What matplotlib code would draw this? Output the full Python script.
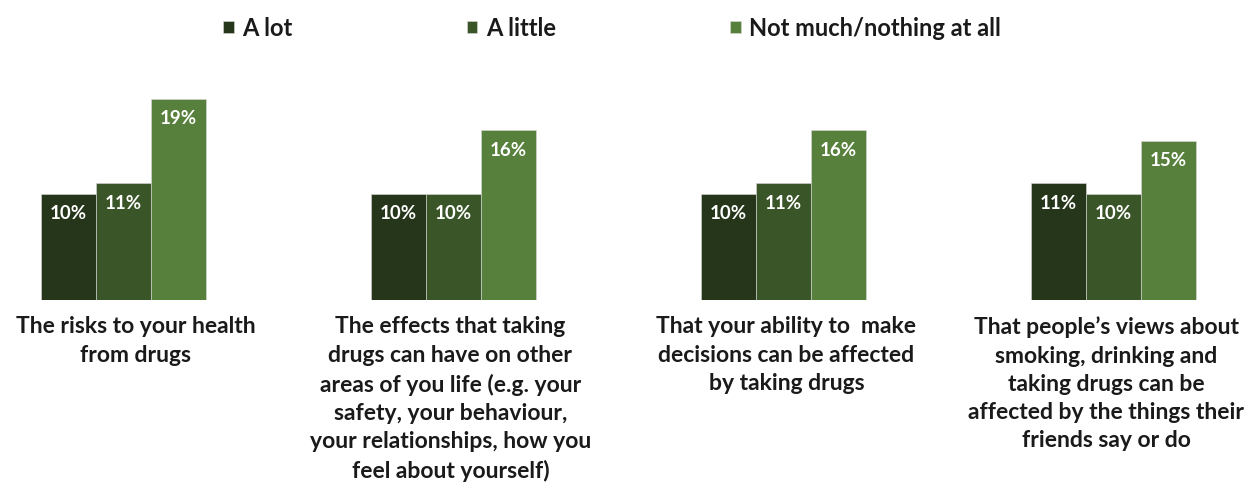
import numpy as np
import matplotlib.pyplot as plt

# data
categories = [
    'The risks to your health\nfrom drugs',
    'The effects that taking\ndrugs can have on other\nareas of you life (e.g. your\nsafety, your behaviour,\nyour relationships, how you\nfeel about yourself)',
    'That your ability to  make\ndecisions can be affected\nby taking drugs',
    'That people\u2019s views about\nsmoking, drinking and\ntaking drugs can be\naffected by the things their\nfriends say or do',
]
series_names = ['A lot', 'A little', 'Not much/nothing at all']
a_lot = [10, 10, 10, 11]
a_little = [11, 10, 11, 10]
not_much = [19, 16, 16, 15]
colors = ['#26361a', '#3a5528', '#57803c']

plt.rcParams['font.family'] = ['Lato', 'DejaVu Sans']

fig = plt.figure(figsize=(12.54, 4.86), dpi=100)
ax = fig.add_axes([0, 1 - 300 / 486, 1, 212 / 486])
ax.set_xlim(0, 1254)
ax.set_ylim(0, 20)

centers = 123.5 + 330 * np.arange(len(categories))
width = 55
handles = []
for j, (vals, name) in enumerate(zip([a_lot, a_little, not_much], series_names)):
    xs = centers + (j - 1) * width
    b = ax.bar(xs, vals, width=width, color=colors[j], label=name,
               edgecolor='#d9d9d9', linewidth=0.4)
    handles.append(b)
    for x, v in zip(xs, vals):
        ax.text(x, v - 1.05, f'{v}%', ha='center', va='top', color='white',
                fontsize=13.5, fontweight='bold')

# category text is not exactly centred under each group
label_shift = [12, -3, 3, -7]
for c, dx, lab in zip(centers, label_shift, categories):
    ax.text(c + dx, -1.55, lab, ha='center', va='top', fontsize=16.5,
            fontweight='bold', color='#1a1a1a', linespacing=1.43)

ax.axis('off')

leg = fig.legend(handles=handles, labels=series_names, loc='center',
                 bbox_to_anchor=(612 / 1254, 1 - 28 / 486), ncol=3, frameon=False,
                 prop={'weight': 'bold', 'size': 17, 'family': ['Lato', 'DejaVu Sans']},
                 handlelength=0.45, handleheight=0.45, handletextpad=0.35,
                 columnspacing=7.4, labelcolor='#1a1a1a')

fig.savefig('out.png', dpi=100)
